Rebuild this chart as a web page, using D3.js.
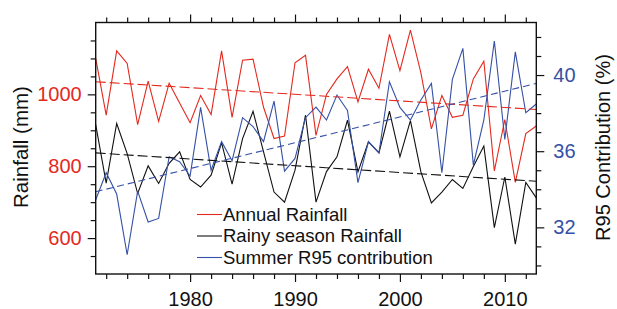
<!DOCTYPE html>
<html>
<head>
<meta charset="utf-8">
<script src="https://cdn.jsdelivr.net/npm/d3@7"></script>
<style>
  body { margin: 0; background: #fff; }
  svg { font-family: "Liberation Sans", Arial, sans-serif; }
  .tick line { stroke: #111; stroke-width: 1.2; }
</style>
</head>
<body>
<div class="chart"></div>
<script>
// chart values
var years = d3.range(1971, 2014);

var annualRain = [1100, 942, 1121, 1086, 916, 1037, 925, 1031, 976, 921,
  997, 944, 1121, 936, 1095, 1098, 964, 877, 884, 1088,
  1109, 886, 1000, 1043, 1077, 979, 1070, 1017, 1167, 1066,
  1179, 1060, 904, 997, 936, 942, 1043, 1092, 787, 930,
  755, 891, 912];

var rainySeason = [916, 753, 919, 835, 724, 801, 752, 808, 840, 763,
  742, 775, 865, 750, 877, 953, 840, 728, 700, 789,
  942, 700, 785, 826, 928, 784, 868, 837, 953, 826,
  927, 784, 698, 728, 763, 738, 799, 856, 629, 770,
  583, 755, 712];

var summerR95 = [33.45, 34.87, 33.75, 30.56, 33.9, 32.28, 32.47, 35.71, 35.45, 34.70,
  38.30, 35.0, 36.5, 35.5, 37.76, 37.29, 36.5, 38.63, 34.95, 35.62,
  37.76, 38.32, 37.64, 38.95, 38.14, 34.35, 36.5, 35.92, 39.65, 38.3,
  37.64, 38.69, 39.56, 34.87, 39.77, 41.4, 35.27, 37.64, 41.79, 36.62,
  41.22, 38.02, 38.48];

// trend line end points [1971, 2013]
var annualTrend = [1035, 958];
var rainyTrend = [837, 758];
var r95Trend = [33.87, 39.56];

var xMajor = [1980, 1990, 2000, 2010];
var leftMajor = [600, 800, 1000];
var rightMajor = [32, 36, 40];

var legendLabels = ["Annual Rainfall", "Rainy season Rainfall", "Summer R95 contribution"];

var red = "#e4291e";
var blue = "#3550a6";

var svgWidth = 617;
var svgHeight = 309;
var margin = { top: 22.5, right: 80.7, bottom: 35, left: 95.7 };
var width = svgWidth - margin.left - margin.right;
var height = svgHeight - margin.top - margin.bottom;

var svg = d3.select(".chart")
  .append("svg")
  .attr("width", svgWidth)
  .attr("height", svgHeight);

var chart = svg.append("g")
  .attr("transform", "translate(" + margin.left + "," + margin.top + ")");

var xScale = d3.scaleLinear().domain([1971, 2013]).range([0, width]);
var yLeft = d3.scaleLinear().domain([500, 1200]).range([height, 0]);
var yRight = d3.scaleLinear().domain([29.55, 42.76]).range([height, 0]);

var xMinor = d3.range(1972, 2013, 2).filter(function(d) { return xMajor.indexOf(d) < 0; });
var leftMinor = d3.range(550, 1200, 50).filter(function(d) { return leftMajor.indexOf(d) < 0; });
var rightMinor = d3.range(30, 43, 1).filter(function(d) { return rightMajor.indexOf(d) < 0; });

function styleAxis(g) {
  g.select(".domain").remove();
  g.selectAll("text").style("font-size", "20px");
}

// minor ticks
chart.append("g").attr("transform", "translate(0," + height + ")")
  .call(d3.axisBottom(xScale).tickValues(xMinor).tickSize(5).tickFormat("")).call(styleAxis);
chart.append("g")
  .call(d3.axisTop(xScale).tickValues(xMinor).tickSize(5).tickFormat("")).call(styleAxis);
chart.append("g")
  .call(d3.axisLeft(yLeft).tickValues(leftMinor).tickSize(5).tickFormat("")).call(styleAxis);
chart.append("g").attr("transform", "translate(" + width + ",0)")
  .call(d3.axisRight(yRight).tickValues(rightMinor).tickSize(5).tickFormat("")).call(styleAxis);

// major ticks
chart.append("g").attr("transform", "translate(0," + height + ")")
  .call(d3.axisBottom(xScale).tickValues(xMajor).tickSize(8).tickPadding(9.5).tickFormat(d3.format("d")))
  .call(styleAxis)
  .selectAll("text").attr("fill", "#111");
chart.append("g")
  .call(d3.axisTop(xScale).tickValues(xMajor).tickSize(8).tickFormat("")).call(styleAxis);
chart.append("g")
  .call(d3.axisLeft(yLeft).tickValues(leftMajor).tickSize(8).tickPadding(6).tickFormat(d3.format("d")))
  .call(styleAxis)
  .selectAll("text").attr("fill", red);
chart.append("g").attr("transform", "translate(" + width + ",0)")
  .call(d3.axisRight(yRight).tickValues(rightMajor).tickSize(8).tickPadding(9).tickFormat(d3.format("d")))
  .call(styleAxis)
  .selectAll("text").attr("fill", blue);

// series lines
var leftLine = d3.line()
  .x(function(d, i) { return xScale(years[i]); })
  .y(function(d) { return yLeft(d); });
var rightLine = d3.line()
  .x(function(d, i) { return xScale(years[i]); })
  .y(function(d) { return yRight(d); });

chart.append("path").attr("d", leftLine(annualRain))
  .attr("fill", "none").attr("stroke", red).attr("stroke-width", 1.1);
chart.append("path").attr("d", leftLine(rainySeason))
  .attr("fill", "none").attr("stroke", "#111").attr("stroke-width", 1.1);
chart.append("path").attr("d", rightLine(summerR95))
  .attr("fill", "none").attr("stroke", blue).attr("stroke-width", 1.1);

// trend lines
var trendYears = [1971, 2013];
function trend(vals, yScale, color, dash) {
  chart.append("path")
    .attr("d", d3.line()
      .x(function(d, i) { return xScale(trendYears[i]); })
      .y(function(d) { return yScale(d); })(vals))
    .attr("fill", "none")
    .attr("stroke", color)
    .attr("stroke-width", 1.1)
    .attr("stroke-dasharray", dash);
}
trend(annualTrend, yLeft, red, "10,4");
trend(rainyTrend, yLeft, "#111", "10,4");
trend(r95Trend, yRight, blue, "7,4");

// frame
chart.append("rect")
  .attr("width", width).attr("height", height)
  .attr("fill", "none").attr("stroke", "#111").attr("stroke-width", 1.4);

// legend
var legendColors = [red, "#111", blue];
var legend = chart.selectAll(".legend")
  .data(legendLabels)
  .enter().append("g")
  .attr("transform", function(d, i) { return "translate(" + (197 - margin.left) + "," + (214.5 - margin.top + i * 21.5) + ")"; });
legend.append("line")
  .attr("x1", 0).attr("x2", 25)
  .attr("stroke", function(d, i) { return legendColors[i]; })
  .attr("stroke-width", 1.1);
legend.append("text")
  .attr("x", 26)
  .attr("dy", "0.35em")
  .style("font-size", "18.5px")
  .attr("fill", "#111")
  .text(function(d) { return d; });

// axis titles
svg.append("text")
  .attr("transform", "translate(28," + 147 + ") rotate(-90)")
  .attr("text-anchor", "middle")
  .style("font-size", "20.5px")
  .attr("fill", "#111")
  .text("Rainfall (mm)");

svg.append("text")
  .attr("transform", "translate(610," + 147.5 + ") rotate(-90)")
  .attr("text-anchor", "middle")
  .style("font-size", "20px")
  .attr("fill", "#111")
  .text("R95 Contribution (%)");
</script>
</body>
</html>
